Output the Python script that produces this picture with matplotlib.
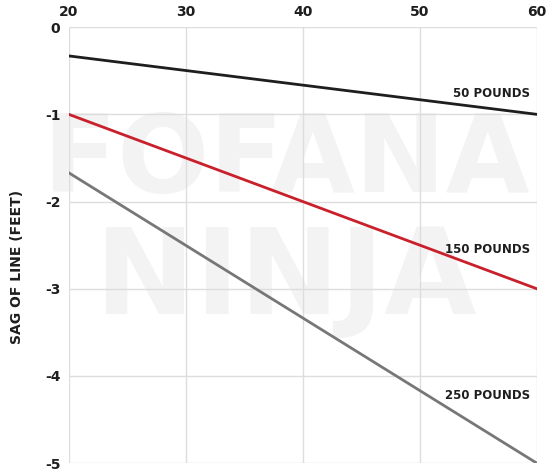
import matplotlib.pyplot as plt

plt.rcParams["axes.unicode_minus"] = False

# span of line in feet (x) vs sag in feet (y)
span_ft = [20, 60]
sag_50 = [-0.33, -1.0]
sag_150 = [-1.0, -3.0]
sag_250 = [-1.67, -5.0]

x_ticks = [20, 30, 40, 50, 60]
y_ticks = [0, -1, -2, -3, -4, -5]

fig = plt.figure(figsize=(5.5, 4.76), dpi=100)
ax = fig.add_axes([0.125, 0.027, 0.851, 0.916])

# faint watermark behind everything in the axes
wm_kw = dict(fontweight="heavy", color="#f3f3f3", ha="center", va="center",
             transform=fig.transFigure, zorder=0, clip_on=False)
ax.text(0.52, 0.66, "FOFANA", fontsize=78, **wm_kw)
ax.text(0.52, 0.41, "NINJA", fontsize=86, **wm_kw)

ax.plot(span_ft, sag_50, color="#1e1e1e", linewidth=2, zorder=3)
ax.plot(span_ft, sag_150, color="#c9202b", linewidth=2, zorder=3)
ax.plot(span_ft, sag_250, color="#777777", linewidth=2, zorder=3)

label_kw = dict(fontsize=8.5, fontweight="bold", color="#1e1e1e", ha="right", va="center", zorder=4)
ax.text(59.4, -0.76, "50 POUNDS", **label_kw)
ax.text(59.4, -2.55, "150 POUNDS", **label_kw)
ax.text(59.4, -4.22, "250 POUNDS", **label_kw)

ax.set_xlim(20, 60)
ax.set_ylim(-5, 0)
ax.set_xticks(x_ticks)
ax.set_yticks(y_ticks)
ax.xaxis.tick_top()
ax.tick_params(length=0, labelsize=10, pad=6)
for lbl in ax.get_xticklabels() + ax.get_yticklabels():
    lbl.set_fontweight("bold")
    lbl.set_color("#1e1e1e")

ax.set_axisbelow(True)
ax.grid(True, color="#dddddd", linewidth=1, zorder=1)
for side in ax.spines.values():
    side.set_visible(False)

ax.set_ylabel("SAG OF LINE (FEET)", fontsize=10, fontweight="bold", color="#1e1e1e")
ax.yaxis.set_label_coords(-0.095, 0.45)

fig.savefig("out.png", dpi=100)
